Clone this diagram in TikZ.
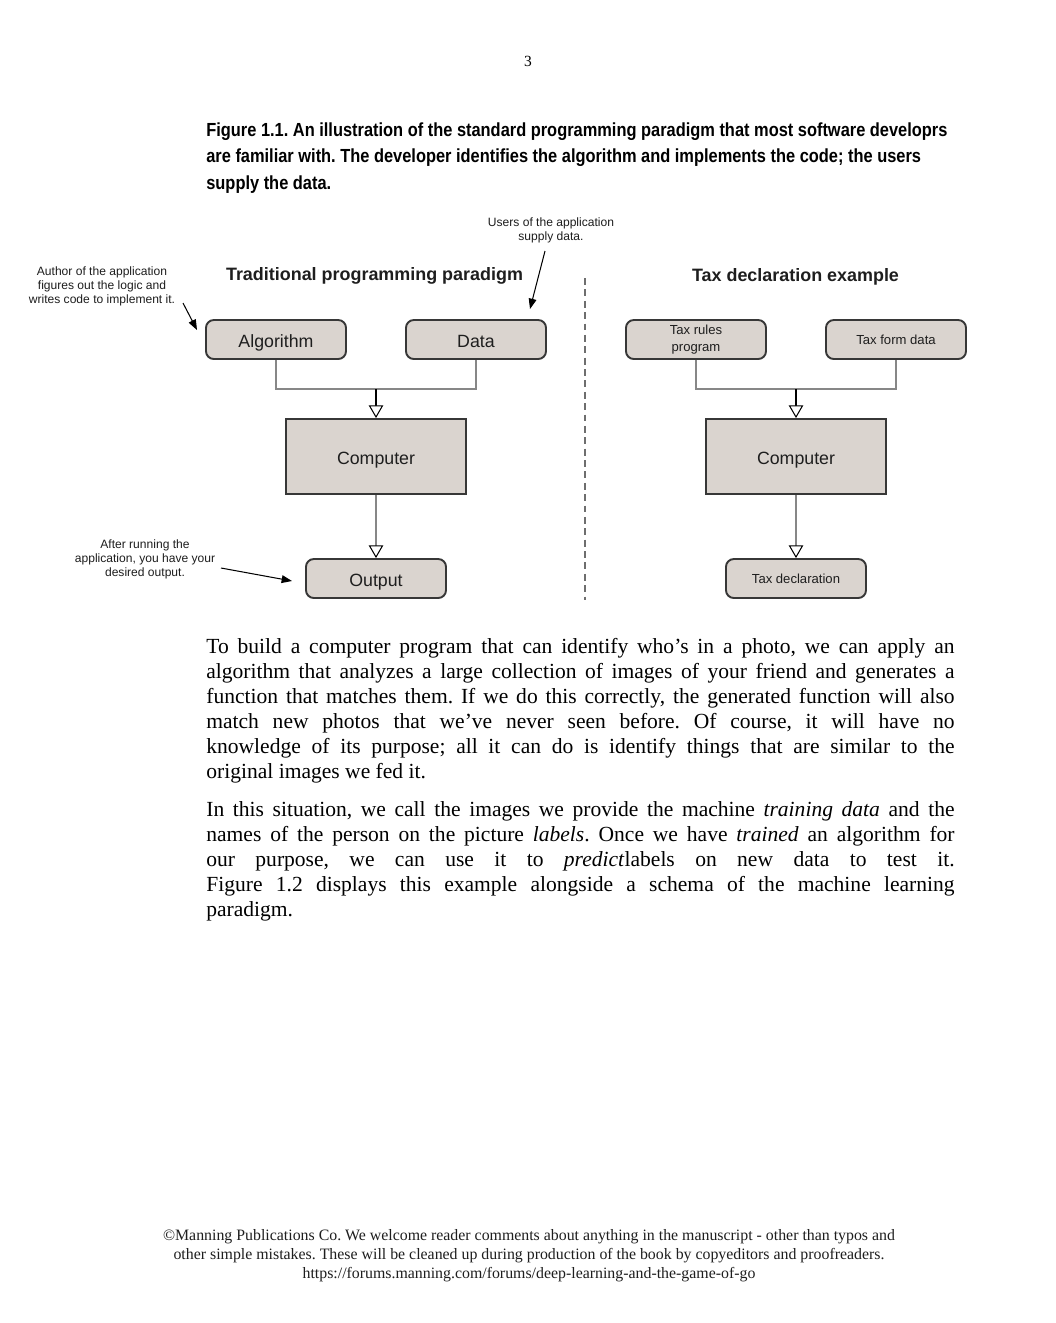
\documentclass[tikz,border=0pt]{standalone}
\usepackage{fontspec}
\setmainfont{Liberation Serif}
\newfontfamily\arialf{Liberation Sans}
\newfontfamily\capf[FakeStretch=0.865]{Liberation Sans}
\usetikzlibrary{arrows.meta}
\definecolor{boxfill}{RGB}{218,212,207}
\definecolor{boxline}{RGB}{55,55,55}
\definecolor{conngray}{RGB}{135,135,135}
\definecolor{textdark}{RGB}{30,30,30}
\definecolor{dashgray}{RGB}{110,110,110}
\AtBeginDocument{\frenchspacing}
\begin{document}
\begin{tikzpicture}[x=0.58pt,y=-0.58pt,
  boxbase/.style={draw=boxline, fill=boxfill, line width=1.1pt, rounded corners=4.5pt,
    minimum width=81.2pt, minimum height=22.6pt, inner sep=1pt, text=textdark},
  box/.style={boxbase, font=\arialf\fontsize{10.3}{12}\selectfont, text height=9.4pt, text depth=0pt},
  cbox/.style={box, rounded corners=0pt, minimum width=104.4pt, minimum height=43.5pt},
  smallbox/.style={boxbase, font=\arialf\fontsize{7.6}{9.6}\selectfont, align=center},
  conn/.style={draw=conngray, line width=0.7pt},
  stem/.style={draw=black, line width=0.7pt},
  opentip/.style={-{Triangle[length=7.4pt,width=8.4pt,fill=white,color=black,line width=0.6pt]}},
  note/.style={font=\arialf\fontsize{7}{8.1}\selectfont, align=center, inner sep=0pt, text=textdark},
  notearrow/.style={draw=black, line width=0.6pt, -{Triangle[length=6pt,width=4.5pt]}},
  divider/.style={draw=dashgray, line width=0.6pt, dash pattern=on 4pt off 2.6pt},
  title/.style={font=\arialf\bfseries\fontsize{10.4}{12}\selectfont, inner sep=0pt, text=textdark},
  capline/.style={font=\capf\bfseries\fontsize{11}{13}\selectfont, anchor=base west, inner sep=0pt},
  bodypar/.style={font=\fontsize{12.5}{14.5}\selectfont, anchor=north west, inner sep=0pt, text width=434pt, align=justify},
  footline/.style={font=\fontsize{9.2}{11}\selectfont, anchor=base, inner sep=0pt, text=textdark}
]
\path[fill=white, use as bounding box] (0,0) rectangle (1056,1323);

% page number
\node[font=\fontsize{9}{11}\selectfont, anchor=base, inner sep=0pt] (pageno) at (528,66) {3};

% caption
\node[capline] (cap1) at (206,136) {Figure 1.1. An illustration of the standard programming paradigm that most software developrs};
\node[capline] (cap2) at (206,162) {are familiar with. The developer identifies the algorithm and implements the code; the users};
\node[capline] (cap3) at (206,189) {supply the data.};

% titles
\node[title] (tleft) at (374.5,276) {Traditional programming paradigm};
\node[title] (tright) at (795.5,277) {Tax declaration example};

% left diagram
\node[box] (alg) at (276,339.5) {Algorithm};
\node[box] (dat) at (476,339.5) {Data};
\node[cbox] (comp) at (376,456.5) {Computer};
\node[box] (out) at (376,578.5) {Output};
\coordinate (j1) at (376,389);
\draw[conn] (alg.south) |- (j1) -| (dat.south);
\draw[stem, opentip] (j1) -- (comp.north);
\draw[conn, opentip] (comp.south) -- (out.north);

% right diagram
\node[smallbox] (trp) at (696,339.5) {Tax rules\\program};
\node[smallbox] (tfd) at (896,339.5) {Tax form data};
\node[cbox] (comp2) at (796,456.5) {Computer};
\node[smallbox] (tdec) at (796,578.5) {Tax declaration};
\coordinate (j2) at (796,389);
\draw[conn] (trp.south) |- (j2) -| (tfd.south);
\draw[stem, opentip] (j2) -- (comp2.north);
\draw[conn, opentip] (comp2.south) -- (tdec.north);

% divider
\coordinate (dtop) at (585,278);
\coordinate (dbot) at (585,600);
\draw[divider] (dtop) -- (dbot);

% annotations
\node[note] (nauthor) at (102,286) {Author of the application\\figures out the logic and\\writes code to implement it.};
\node[note, font=\arialf\fontsize{7}{8.5}\selectfont] (nusers) at (551,230.5) {Users of the application\\supply data.};
\node[note] (nafter) at (145,559) {After running the\\application, you have your\\desired output.};
\coordinate (a1s) at (183,303);
\coordinate (a1e) at (197,330);
\coordinate (a2s) at (545,251);
\coordinate (a2e) at (530,309);
\coordinate (a3s) at (221,568);
\coordinate (a3e) at (292,581);
\draw[notearrow] (a1s) -- (a1e);
\draw[notearrow] (a2s) -- (a2e);
\draw[notearrow] (a3s) -- (a3e);

% body text
\node[bodypar] (par1) at (206,638) {%
To build a computer program that can identify who’s in a photo, we can apply an\linebreak
algorithm that analyzes a large collection of images of your friend and generates a\linebreak
function that matches them. If we do this correctly, the generated function will also\linebreak
match new photos that we’ve never seen before. Of course, it will have no\linebreak
knowledge of its purpose; all it can do is identify things that are similar to the\linebreak
original images we fed it.};
\node[bodypar] (par2) at (206,801) {%
In this situation, we call the images we provide the machine \textit{training data} and the\linebreak
names of the person on the picture \textit{labels}. Once we have \textit{trained} an algorithm for\linebreak
our purpose, we can use it to \textit{predict}labels on new data to test it.\linebreak
Figure 1.2 displays this example alongside a schema of the machine learning\linebreak
paradigm.};

% footer
\node[footline] (foot1) at (529,1240) {©Manning Publications Co. We welcome reader comments about anything in the manuscript - other than typos and};
\node[footline] (foot2) at (529,1259) {other simple mistakes. These will be cleaned up during production of the book by copyeditors and proofreaders.};
\node[footline] (foot3) at (529,1278) {https://forums.manning.com/forums/deep-learning-and-the-game-of-go};
\end{tikzpicture}
\end{document}
